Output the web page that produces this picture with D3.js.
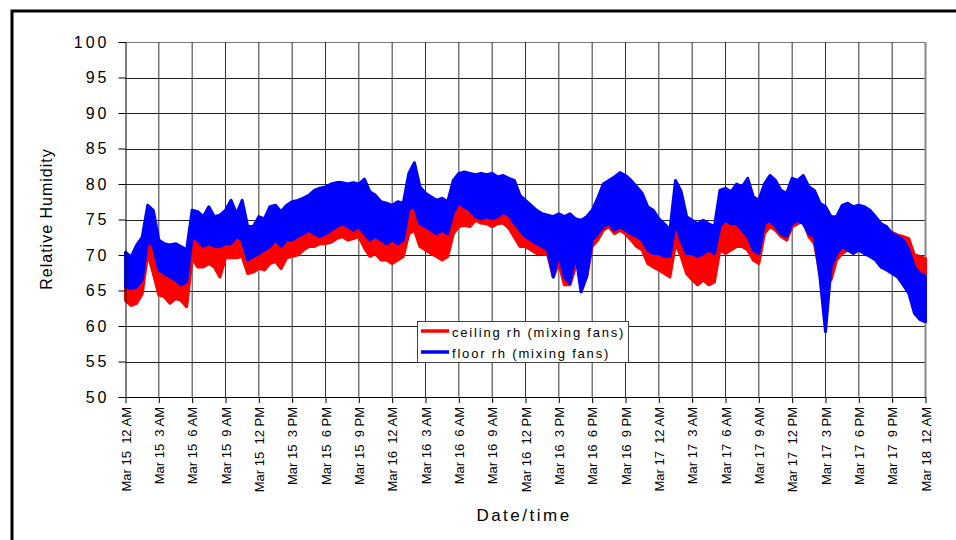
<!DOCTYPE html>
<html>
<head>
<meta charset="utf-8">
<script src="https://cdn.jsdelivr.net/npm/d3@7"></script>
<style>
  html, body { margin: 0; padding: 0; background: #fff; }
  svg { display: block; font-family: Arial, "Liberation Sans", sans-serif; }
</style>
</head>
<body>
<svg id="chart" width="956" height="540"></svg>
<script>
// ---------------- data (30-minute envelopes, Mar 15 00:00 -> Mar 18 00:00) ----------------
const startTime = new Date(2000, 2, 15, 0, 0);
const endTime = new Date(2000, 2, 18, 0, 0);
const stepMinutes = 30;

// floor rh (mixing fans) : upper envelope
const floorHi = [
70.4,69.7,71.4,72.5,77.0,76.3,72.1,71.6,71.4,71.6,71.2,70.7,
76.3,76.1,75.4,76.8,75.4,75.6,76.3,77.7,75.8,77.7,74.0,74.0,
75.4,75.1,76.8,77.0,76.1,77.0,77.5,77.7,78.0,78.4,79.1,79.4,
79.6,80.0,80.2,80.2,80.0,80.2,80.0,80.7,78.9,78.4,77.5,77.3,
77.0,77.5,77.3,81.5,83.0,79.6,78.7,78.2,77.7,78.0,77.5,80.5,
81.5,81.7,81.5,81.3,81.5,81.3,81.5,81.0,81.2,80.8,80.5,78.4,
77.7,77.0,76.3,75.8,75.6,75.4,75.8,75.4,75.8,75.1,74.9,75.4,
76.3,78.0,80.0,80.5,81.0,81.6,81.2,80.5,79.6,78.7,76.8,76.3,
75.1,74.4,73.5,80.5,79.0,75.4,74.9,74.4,74.9,74.4,74.0,79.1,
79.4,78.9,80.0,79.6,80.8,78.2,77.7,80.0,81.2,80.5,79.1,78.7,
80.8,80.5,81.2,79.6,79.1,77.3,76.8,75.4,75.4,77.0,77.3,76.8,
77.0,76.8,76.3,75.4,74.4,74.0,73.0,72.6,72.1,70.7,68.3,67.4,
67.0];
// floor rh (mixing fans) : lower envelope
const floorLo = [
65.5,65.3,65.5,66.5,72.1,71.2,67.9,67.4,66.9,66.5,65.8,66.2,
72.6,72.1,71.2,71.6,71.2,71.2,71.6,71.6,72.6,72.1,69.3,69.8,
70.2,70.7,71.2,72.1,71.2,72.1,72.1,72.6,73.0,73.5,73.0,72.6,
73.0,73.5,74.0,74.4,74.0,73.5,74.0,73.0,72.1,72.6,72.1,71.6,
72.1,71.6,72.1,76.5,76.8,74.4,74.0,73.5,73.0,73.5,73.0,76.0,
77.3,76.8,76.3,75.4,75.1,75.4,75.1,75.4,76.0,75.6,74.5,73.5,
72.6,72.1,71.6,71.2,70.7,66.9,70.2,66.9,66.0,70.2,64.8,66.9,
72.1,73.0,74.0,74.4,73.5,74.0,73.5,73.0,72.6,72.1,70.7,70.2,
70.2,69.8,69.8,74.5,72.0,70.2,70.2,69.8,70.2,70.7,70.2,74.0,
74.9,74.4,74.4,73.5,72.6,70.7,70.2,74.4,74.9,74.0,73.0,72.6,
74.4,74.9,74.4,73.0,72.6,66.9,59.2,68.3,70.2,71.2,70.7,70.2,
70.7,70.2,69.8,69.3,68.3,67.9,67.4,66.9,65.8,64.6,61.8,60.9,
60.6];
// ceiling rh (mixing fans) : upper envelope
const ceilingHi = [
67.5,67.0,67.5,68.0,73.5,72.5,69.5,69.0,68.5,68.0,67.5,68.0,
73.5,73.2,72.5,73.0,72.5,72.5,73.0,73.0,73.5,73.2,71.0,71.2,
71.8,72.0,72.5,73.2,72.5,73.2,73.5,74.0,74.2,74.5,74.5,74.5,
75.0,75.2,75.5,75.7,75.5,75.2,75.5,74.5,73.5,73.8,73.2,72.8,
73.0,72.5,73.0,77.0,77.0,75.5,75.0,74.5,74.0,74.5,74.2,76.5,
77.5,77.2,77.0,76.5,76.3,76.5,76.2,76.5,76.8,76.5,75.5,74.5,
73.8,73.3,72.8,72.4,72.0,69.0,71.2,68.5,68.0,71.2,68.5,68.0,
72.8,74.0,75.0,75.3,74.8,75.0,74.8,74.5,74.0,73.5,72.0,71.5,
71.5,71.0,71.0,75.5,73.0,71.0,71.0,70.8,71.0,71.2,71.0,74.5,
75.2,75.0,75.0,74.5,74.0,72.0,71.5,75.0,75.5,75.0,74.0,73.8,
75.2,75.5,75.2,74.2,73.8,70.0,70.0,69.5,71.0,72.0,72.0,71.8,
72.0,71.5,71.5,71.2,72.5,73.5,73.2,72.8,72.6,72.3,70.0,69.8,
69.5];
// ceiling rh (mixing fans) : lower envelope
const ceilingLo = [
63.6,62.9,63.2,64.5,70.2,67.4,64.4,64.1,63.2,63.9,63.6,62.7,
69.6,68.3,68.3,68.8,68.3,66.9,69.6,69.6,69.6,69.8,67.4,67.6,
68.1,67.9,68.8,69.1,68.1,69.6,69.8,70.0,70.7,71.2,71.2,71.6,
71.6,71.8,72.3,72.6,72.1,72.3,72.6,71.0,69.8,70.2,69.3,69.3,
68.8,69.3,69.8,73.0,73.5,71.2,70.7,70.2,69.8,69.3,69.8,73.0,
74.0,74.2,74.0,74.9,74.5,74.4,74.0,74.4,74.5,73.8,72.5,71.2,
71.2,70.7,70.2,70.2,70.0,66.9,68.8,65.8,65.8,68.3,68.3,66.9,
71.2,72.1,73.5,74.0,73.0,73.5,73.0,72.1,71.2,70.7,68.8,68.3,
67.9,67.4,66.9,71.6,69.8,67.4,66.5,65.8,66.5,65.8,66.2,70.7,
70.2,70.7,71.2,71.2,70.7,69.3,68.8,73.0,74.0,73.5,72.6,72.1,
74.0,74.4,74.9,72.6,71.6,67.4,67.9,66.5,69.3,70.2,70.7,70.5,
70.7,70.2,70.2,70.0,70.0,70.5,70.0,70.2,70.2,70.0,68.8,67.9,
66.5];

const seriesNames = ["ceiling rh (mixing fans)", "floor rh (mixing fans)"];
const seriesColors = ["#ff0000", "#0000ff"];

const yTicks = [50, 55, 60, 65, 70, 75, 80, 85, 90, 95, 100];
const xTickLabels = [
  "Mar 15  12 AM","Mar 15  3 AM","Mar 15  6 AM","Mar 15  9 AM","Mar 15  12 PM",
  "Mar 15  3 PM","Mar 15  6 PM","Mar 15  9 PM","Mar 16  12 AM","Mar 16  3 AM",
  "Mar 16  6 AM","Mar 16  9 AM","Mar 16  12 PM","Mar 16  3 PM","Mar 16  6 PM",
  "Mar 16  9 PM","Mar 17  12 AM","Mar 17  3 AM","Mar 17  6 AM","Mar 17  9 AM",
  "Mar 17  12 PM","Mar 17  3 PM","Mar 17  6 PM","Mar 17  9 PM","Mar 18  12 AM"
];
const xTitle = "Date/time";
const yTitle = "Relative Humidity";

// ---------------- layout ----------------
const svg = d3.select("#chart");
const plot = { left: 125.5, right: 925.5, top: 42, bottom: 397 };

const x = d3.scaleTime().domain([startTime, endTime]).range([plot.left, plot.right]);
const y = d3.scaleLinear().domain([50, 100]).range([plot.bottom, plot.top]);

const sampleTimes = floorHi.map((_, i) => d3.timeMinute.offset(startTime, i * stepMinutes));
const xTickValues = xTickLabels.map((_, i) => d3.timeHour.offset(startTime, i * 3));

// outer frame
svg.append("rect")
  .attr("x", 12).attr("y", 11).attr("width", 1000).attr("height", 600)
  .attr("fill", "none").attr("stroke", "#000").attr("stroke-width", 3);

// gridlines
const grid = svg.append("g");
grid.selectAll("line.h").data(yTicks.slice(1)).join("line")
  .attr("x1", plot.left).attr("x2", plot.right)
  .attr("y1", d => Math.round(y(d)) + 0.5).attr("y2", d => Math.round(y(d)) + 0.5)
  .attr("stroke", d => d === 100 ? "#777" : "#222").attr("stroke-width", 1);
grid.selectAll("line.v").data(xTickValues.slice(1)).join("line")
  .attr("y1", plot.top).attr("y2", plot.bottom)
  .attr("x1", d => x(d)).attr("x2", d => x(d))
  .attr("stroke", (d, i) => i === xTickValues.length - 2 ? "#888" : "#333")
  .attr("stroke-width", (d, i) => i === xTickValues.length - 2 ? 2 : 1);

// series as bands (min/max envelopes)
function band(lo, hi, color) {
  const pts = lo.map((v, i) => ({ t: sampleTimes[i], lo: v, hi: hi[i] }));
  const area = d3.area().x(d => x(d.t)).y0(d => y(d.lo)).y1(d => y(d.hi));
  svg.append("path").datum(pts)
    .attr("d", area)
    .attr("fill", color).attr("stroke", color)
    .attr("stroke-width", 3).attr("stroke-linejoin", "round");
}
band(ceilingLo, ceilingHi, seriesColors[0]);
band(floorLo, floorHi, seriesColors[1]);

// axes
const yAxis = d3.axisLeft(y).tickValues(yTicks).tickSize(7).tickPadding(12);
const gy = svg.append("g").attr("transform", `translate(${plot.left},0)`).call(yAxis);
gy.select(".domain").attr("stroke", "#000");
gy.selectAll(".tick line").attr("stroke", "#000");
gy.selectAll(".tick text")
  .attr("font-size", 16).attr("fill", "#000")
  .style("letter-spacing", "3px")
  .attr("dx", 3);

const xAxis = d3.axisBottom(x).tickValues(xTickValues)
  .tickFormat((d, i) => xTickLabels[i]).tickSize(6).tickSizeOuter(0);
const gx = svg.append("g").attr("transform", `translate(0,${plot.bottom})`).call(xAxis);
gx.select(".domain").attr("stroke", "#000");
gx.selectAll(".tick line").attr("stroke", "#000");
gx.selectAll(".tick text")
  .attr("font-size", 13).attr("fill", "#000")
  .style("white-space", "pre")
  .attr("text-anchor", "end")
  .attr("transform", "rotate(-90)")
  .attr("x", -10).attr("y", 0).attr("dy", "0.35em");

// axis titles
svg.append("text")
  .attr("x", 524).attr("y", 521)
  .attr("text-anchor", "middle")
  .attr("font-size", 17).style("letter-spacing", "2.5px")
  .text(xTitle);
svg.append("text")
  .attr("transform", "translate(52,219) rotate(-90)")
  .attr("text-anchor", "middle")
  .attr("font-size", 16).style("letter-spacing", "1px")
  .text(yTitle);

// legend
const lg = svg.append("g");
lg.append("rect").attr("x", 417.5).attr("y", 321.5).attr("width", 211).attr("height", 41)
  .attr("fill", "#fff").attr("stroke", "#444").attr("stroke-width", 1);
seriesNames.forEach((name, i) => {
  const yy = 331 + i * 21;
  lg.append("line").attr("x1", 421).attr("x2", 449).attr("y1", yy).attr("y2", yy)
    .attr("stroke", seriesColors[i]).attr("stroke-width", 3.5);
  lg.append("text").attr("x", 452).attr("y", yy + 6)
    .attr("font-size", 13).style("letter-spacing", "1.8px")
    .text(name);
});
</script>
</body>
</html>
